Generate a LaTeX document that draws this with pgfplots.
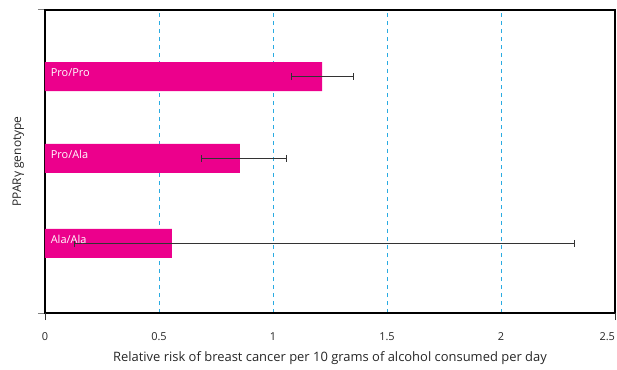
\documentclass[border=0pt]{standalone}
\usepackage{pgfplots}
\pgfplotsset{compat=1.18}
\usepackage{fontspec}
\setmainfont{Open Sans}
\definecolor{barpink}{HTML}{EC008C}
\definecolor{gridblue}{HTML}{29ABE2}
\begin{document}
\begin{tikzpicture}
\begin{axis}[
  scale only axis,
  width=570bp, height=303bp,
  xmin=0, xmax=2.5, ymin=0, ymax=3,
  xbar, bar width=29bp,
  xtick={0,0.5,1,1.5,2,2.5},
  xticklabels={0,0.5,1,1.5,2,\llap{2.5}},
  ytick={0,3}, yticklabels={},
  major tick length=7bp,
  tick align=outside, tick pos=left,
  x tick style={draw=none},
  y tick style={draw=gray, line width=1bp},
  extra x ticks={0,2.5}, extra x tick labels={},
  extra x tick style={grid=none, x tick style={draw=black!80, line width=0.8bp}},
  xmajorgrids,
  major grid style={draw=gridblue, line width=0.8bp, dash pattern=on 4bp off 4bp},
  axis line style={black, line width=1.6bp},
  tick label style={font=\fontsize{11}{13}\selectfont, text=black!85},
  /pgf/number format/assume math mode=true,
  xticklabel style={anchor=center, yshift=-17bp},
  xlabel={Relative risk of breast cancer per 10 grams of alcohol consumed per day},
  ylabel={PPARγ genotype},
  xlabel style={font=\fontsize{13}{15}\selectfont, text=black!85, at={(axis description cs:0.5,-0.148)}, anchor=center},
  ylabel style={font=\fontsize{12}{14}\selectfont, text=black!85, at={(axis description cs:-0.047,0.5)}, anchor=center},
  clip=false,
]
\addplot[fill=barpink, draw=none,
  error bars/.cd, x dir=both, x explicit, error mark=|,
  error bar style={black!80, line width=0.9bp},
  error mark options={black!80, line width=0.9bp, mark size=3.5bp}]
  coordinates {
    (1.215,2.34) += (0.14,0) -= (0.135,0)
    (0.855,1.53) += (0.205,0) -= (0.17,0)
    (0.557,0.69) += (1.765,0) -= (0.43,0)
  };
\node[anchor=west, text=white, font=\fontsize{11}{13}\selectfont] at (axis cs:0.01,2.38) {Pro/Pro};
\node[anchor=west, text=white, font=\fontsize{11}{13}\selectfont] at (axis cs:0.01,1.57) {Pro/Ala};
\node[anchor=west, text=white, font=\fontsize{11}{13}\selectfont] at (axis cs:0.01,0.73) {Ala/Ala};
\coordinate (sw) at (rel axis cs:0,0);
\coordinate (ne) at (rel axis cs:1,1);
\end{axis}
\pgfresetboundingbox
\path ([shift={(-45bp,-57bp)}]sw) rectangle ([shift={(2bp,10bp)}]ne);
\end{tikzpicture}
\end{document}
